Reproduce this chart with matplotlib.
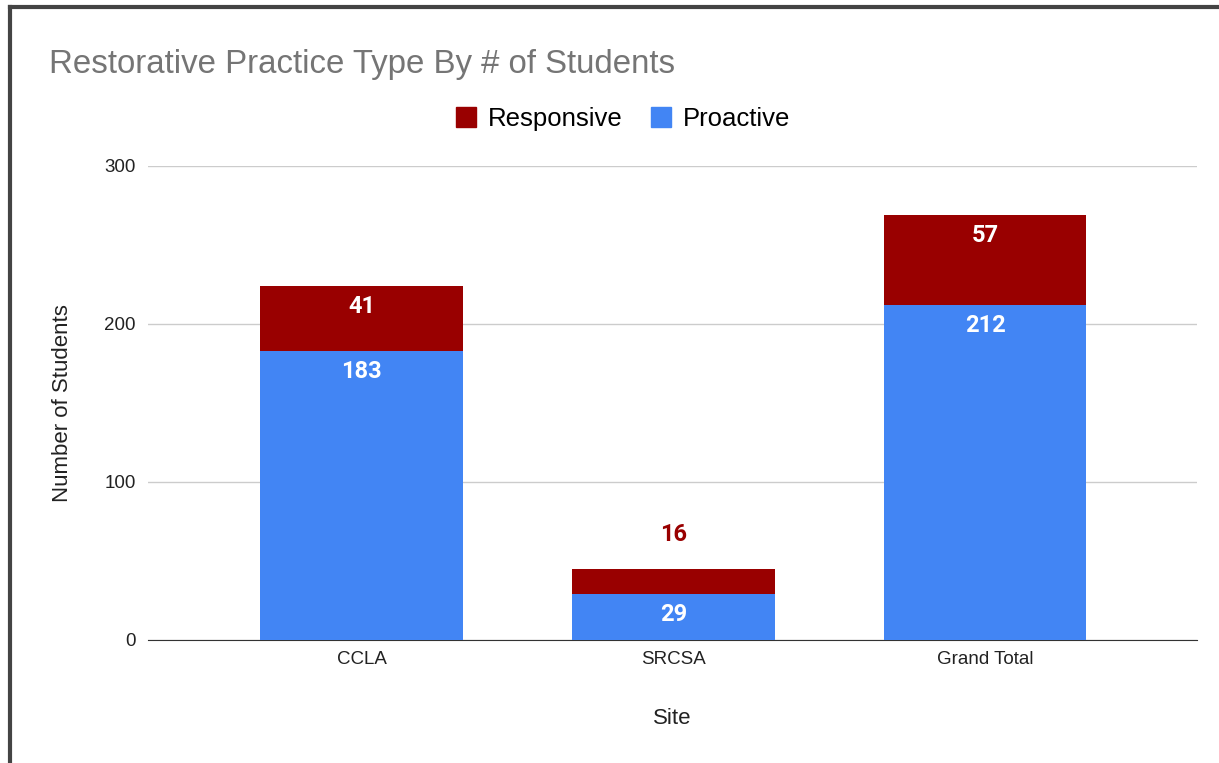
# Restorative practice type by number of students, stacked bars per site
import matplotlib.pyplot as plt
from matplotlib.lines import Line2D

plt.rcParams['font.family'] = ['Liberation Sans', 'DejaVu Sans']

sites = ['CCLA', 'SRCSA', 'Grand Total']
proactive = [183, 29, 212]
responsive = [41, 16, 57]

blue = '#4285f4'
red = '#990000'

fig = plt.figure(figsize=(12.19, 7.63), dpi=100)
ax = fig.add_axes([148 / 1219, 1 - 640 / 763, (1197 - 148) / 1219, (640 - 166) / 763])

x = range(len(sites))
ax.bar(x, proactive, width=0.65, color=blue, zorder=3)
ax.bar(x, responsive, width=0.65, bottom=proactive, color=red, zorder=3)

# data labels
lab = dict(ha='center', va='center', fontsize=17, fontweight='bold', family='Roboto', zorder=4)
for i in x:
    p, r = proactive[i], responsive[i]
    ax.text(i, p - 13, str(p), color='white', **lab)
    if r > 25:
        ax.text(i, p + r - 13, str(r), color='white', **lab)
    else:
        ax.text(i, p + r + 22, str(r), color=red, **lab)

ax.set_xlim(-0.685, 2.68)
ax.set_ylim(0, 300)
ax.set_yticks([0, 100, 200, 300])
ax.set_xticks(list(x))
ax.set_xticklabels(sites)
ax.grid(axis='y', color='#cccccc', linewidth=1, zorder=0)
for s in ['top', 'right', 'left']:
    ax.spines[s].set_visible(False)
ax.spines['bottom'].set_color('#333333')
ax.tick_params(length=0, labelsize=13.5, colors='#222222')
ax.tick_params(axis='y', pad=9)
ax.tick_params(axis='x', pad=8)
ax.set_ylabel('Number of Students', fontsize=16, color='#222222', labelpad=22)
ax.set_xlabel('Site', fontsize=16, color='#222222', labelpad=29)

fig.text(49 / 1219, 1 - 64 / 763, 'Restorative Practice Type By # of Students',
         fontsize=23.75, color='#757575', va='center', ha='left')

handles = [Line2D([], [], marker='s', linestyle='', color=red, markersize=14.5),
           Line2D([], [], marker='s', linestyle='', color=blue, markersize=14.5)]
fig.legend(handles, ['Responsive', 'Proactive'], loc='center',
           bbox_to_anchor=(622 / 1219, 1 - 119 / 763), ncol=2, frameon=False,
           fontsize=18.5, handlelength=1.0, handletextpad=0.35, columnspacing=1.0)

# screenshot frame (top and left edges)
fig.add_artist(Line2D([10 / 1219, 10 / 1219], [0, 1 - 7 / 763], color='#444444', linewidth=3))
fig.add_artist(Line2D([10 / 1219, 1], [1 - 7 / 763, 1 - 7 / 763], color='#444444', linewidth=3))

fig.savefig('out.png', dpi=100)
